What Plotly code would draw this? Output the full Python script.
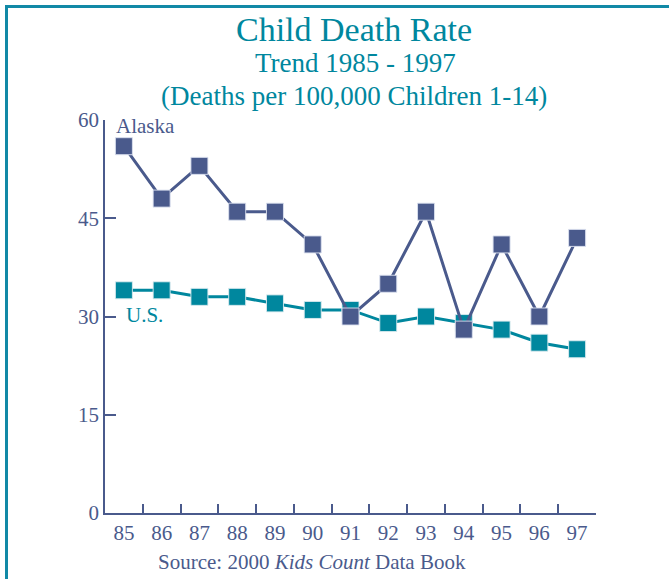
import plotly.graph_objects as go

years = ["85", "86", "87", "88", "89", "90", "91", "92", "93", "94", "95", "96", "97"]
alaska = [56, 48, 53, 46, 46, 41, 30, 35, 46, 28, 41, 30, 42]
us = [34, 34, 33, 33, 32, 31, 31, 29, 30, 29, 28, 26, 25]
y_ticks = [0, 15, 30, 45, 60]

NAVY = "#4a5a8c"
TEAL = "#00879e"
FRAME = "#1189a6"
FONT = "Liberation Serif"

W, H = 669, 579
L, R, T, B = 105, 73, 120, 66
PW, PH = W - L - R, H - T - B


def px(x):
    return (x - L) / PW


def py(y):
    return (H - B - y) / PH


fig = go.Figure()
fig.add_trace(go.Scatter(
    x=years, y=us, mode="lines+markers", name="U.S.",
    line=dict(color=TEAL, width=3),
    marker=dict(symbol="square", size=17, color=TEAL,
                line=dict(color="rgba(220,235,240,0.9)", width=1)),
    cliponaxis=False,
))
fig.add_trace(go.Scatter(
    x=years, y=alaska, mode="lines+markers", name="Alaska",
    line=dict(color=NAVY, width=3),
    marker=dict(symbol="square", size=17, color=NAVY,
                line=dict(color="rgba(220,225,240,0.9)", width=1)),
    cliponaxis=False,
))

ann = [
    dict(text="Child Death Rate", x=px(354), y=py(29), size=34, color=TEAL),
    dict(text="Trend 1985 - 1997", x=px(355), y=py(63), size=27, color=TEAL),
    dict(text="(Deaths per 100,000 Children 1-14)", x=px(354), y=py(96), size=27, color=TEAL),
    dict(text="Source: 2000 <i>Kids Count</i> Data Book", x=px(312), y=py(562), size=21, color=NAVY),
]
annotations = [
    dict(text=a["text"], x=a["x"], y=a["y"], xref="paper", yref="paper",
         xanchor="center", yanchor="middle", showarrow=False,
         font=dict(family=FONT, size=a["size"], color=a["color"]))
    for a in ann
]
annotations += [
    dict(text="Alaska", x=px(114), y=py(126), xref="paper", yref="paper",
         xanchor="left", yanchor="middle", showarrow=False,
         font=dict(family=FONT, size=21, color=NAVY)),
    dict(text="U.S.", x=px(124), y=py(315), xref="paper", yref="paper",
         xanchor="left", yanchor="middle", showarrow=False,
         font=dict(family=FONT, size=21, color=TEAL)),
]

fig.update_layout(
    width=W, height=H,
    margin=dict(l=L, r=R, t=T, b=B, pad=0),
    paper_bgcolor="white", plot_bgcolor="white",
    showlegend=False,
    font=dict(family=FONT, color=NAVY),
    annotations=annotations,
    shapes=[
        dict(type="path", xref="paper", yref="paper",
             path=f"M {px(6.5)},{py(600)} L {px(6.5)},{py(6.5)} L {px(680)},{py(6.5)}",
             line=dict(color=FRAME, width=3)),
    ],
)
fig.update_xaxes(
    type="category", range=[-0.5, 12.5], tickson="boundaries",
    ticks="inside", ticklen=9, tickwidth=1.5, tickcolor=NAVY,
    showline=True, linecolor=NAVY, linewidth=1.5,
    showgrid=False, zeroline=False,
    tickfont=dict(family=FONT, size=21, color=NAVY),
)
fig.update_yaxes(
    range=[0, 60], tickvals=y_ticks,
    ticks="inside", ticklen=11, tickwidth=1.5, tickcolor=NAVY,
    showline=True, linecolor=NAVY, linewidth=1.5,
    showgrid=False, zeroline=False,
    tickfont=dict(family=FONT, size=21, color=NAVY),
)

fig.write_html("out.html")
